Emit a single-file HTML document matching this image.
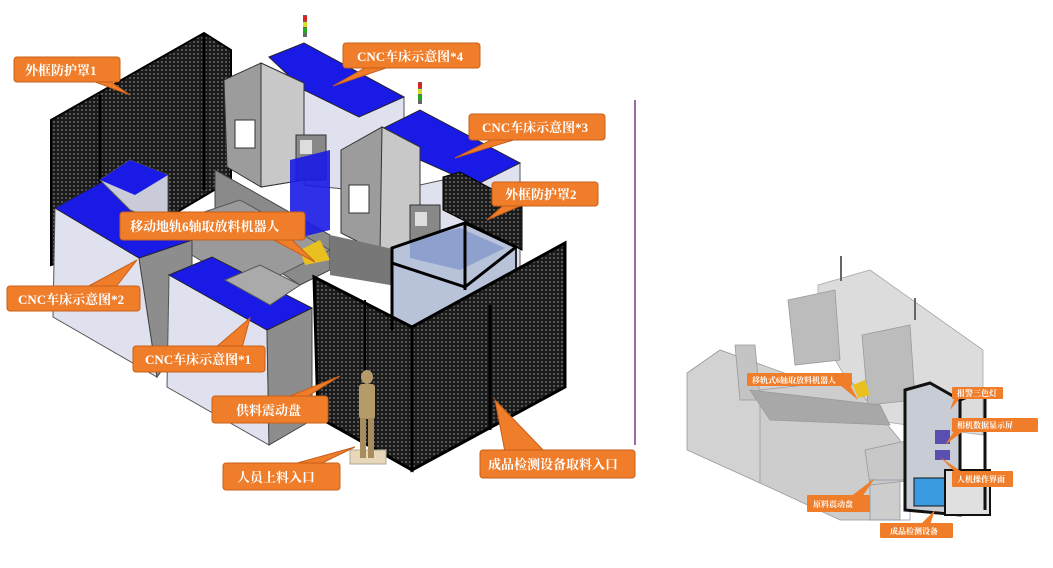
<!DOCTYPE html>
<html><head><meta charset="utf-8"><style>
html,body{margin:0;padding:0;background:#fff;width:1053px;height:568px;overflow:hidden}
svg{display:block}
text{font-family:"Liberation Serif","Noto Serif CJK SC","Noto Sans CJK SC",serif;font-weight:bold}
</style></head><body>
<svg width="1053" height="568" viewBox="0 0 1053 568" xmlns="http://www.w3.org/2000/svg">
<defs>
<pattern id="mesh" width="4" height="4" patternUnits="userSpaceOnUse">
<rect width="4" height="4" fill="#1a1a1a"/><rect x="1" y="1" width="2" height="2" fill="#555"/>
</pattern>
</defs>
<!-- ===== LEFT MAIN DIAGRAM ===== -->
<!-- fence 1 -->
<polygon points="51,120 204,33 231,50 231,180 130,240 51,265" fill="url(#mesh)" stroke="#000" stroke-width="2"/>
<line x1="100" y1="95" x2="100" y2="250" stroke="#000" stroke-width="3"/>
<line x1="204" y1="33" x2="204" y2="190" stroke="#000" stroke-width="3"/>
<!-- middle grey rail -->
<polygon points="215,170 330,235 330,270 300,285 215,230" fill="#8a8a8a" stroke="#444"/>
<polygon points="150,230 240,200 330,250 250,290" fill="#9a9a9a" stroke="#555"/>
<!-- CNC #4 -->
<polygon points="304,83 404,97 404,195 304,185" fill="#dfe2ee" stroke="#555"/>
<polygon points="269,57 304,43 404,97 359,117 304,90" fill="#1a1ae6" stroke="#223"/>
<polygon points="224,80 261,63 304,83 304,180 261,187 227,167" fill="#9c9c9c" stroke="#333"/>
<polygon points="261,63 304,83 304,180 261,187" fill="#c8c8c8" stroke="#333"/>
<rect x="235" y="120" width="20" height="28" fill="#fff" stroke="#333"/>
<rect x="296" y="135" width="30" height="45" fill="#888" stroke="#333"/>
<rect x="300" y="140" width="12" height="14" fill="#ddd"/>
<polygon points="290,160 330,150 330,230 290,240" fill="#1a1ae6" opacity="0.9"/>
<rect x="303" y="15" width="4" height="22" fill="#666"/><rect x="303" y="16" width="4" height="5" fill="#d22"/><rect x="303" y="22" width="4" height="5" fill="#dd2"/><rect x="303" y="28" width="4" height="5" fill="#2a2"/>
<!-- CNC #3 -->
<polygon points="420,185 520,163 520,290 420,310" fill="#dfe2ee" stroke="#555"/>
<polygon points="384,128 420,110 520,163 476,185 420,160" fill="#1a1ae6" stroke="#223"/>
<polygon points="341,150 382,127 420,147 420,247 380,253 341,233" fill="#9c9c9c" stroke="#333"/>
<polygon points="382,127 420,147 420,247 380,253" fill="#c8c8c8" stroke="#333"/>
<rect x="349" y="185" width="20" height="28" fill="#fff" stroke="#333"/>
<rect x="410" y="205" width="30" height="45" fill="#888" stroke="#333"/>
<rect x="415" y="212" width="12" height="14" fill="#ddd"/>
<polygon points="330,235 420,255 420,290 330,275" fill="#777"/>
<rect x="418" y="82" width="4" height="22" fill="#666"/><rect x="418" y="83" width="4" height="5" fill="#d22"/><rect x="418" y="89" width="4" height="5" fill="#dd2"/><rect x="418" y="95" width="4" height="5" fill="#2a2"/>
<!-- CNC #2 -->
<polygon points="55,208 139,258 157,377 53,317" fill="#dfe2ee" stroke="#555"/>
<polygon points="139,258 192,240 192,330 157,377" fill="#8d8d8d" stroke="#444"/>
<polygon points="55,208 102,182 192,240 139,258" fill="#1a1ae6" stroke="#223"/>
<polygon points="100,180 130,160 168,175 168,225 130,210" fill="#c9ccd8" stroke="#555"/>
<polygon points="100,180 130,160 168,175 135,195" fill="#1a1ae6"/>
<!-- CNC #1 -->
<polygon points="169,275 267,330 269,445 167,387" fill="#dfe2ee" stroke="#555"/>
<polygon points="267,330 312,308 312,420 269,445" fill="#8d8d8d" stroke="#444"/>
<polygon points="169,275 212,257 312,308 267,330" fill="#1a1ae6" stroke="#223"/>
<polygon points="225,280 260,265 300,285 270,305" fill="#aaa" stroke="#555"/>
<polygon points="300,250 320,240 330,260 305,265" fill="#e8c020"/>
<!-- cage right -->
<polygon points="392,248 465,223 516,247 516,330 392,330" fill="#b8c2d8" stroke="#222" stroke-width="2"/>
<polygon points="410,240 460,228 505,248 460,270 410,258" fill="#7288c8" opacity="0.6"/>
<polygon points="443,177 460,172 522,205 522,250 443,210" fill="url(#mesh)" stroke="#000"/>
<polygon points="314,277 412,327 412,470 318,417" fill="url(#mesh)" stroke="#000" stroke-width="3"/>
<polygon points="412,327 565,243 565,387 412,470" fill="url(#mesh)" stroke="#000" stroke-width="3"/>
<line x1="392" y1="248" x2="392" y2="330" stroke="#000" stroke-width="3"/>
<line x1="465" y1="223" x2="465" y2="290" stroke="#000" stroke-width="3"/>
<line x1="490" y1="305" x2="490" y2="430" stroke="#000" stroke-width="3"/>
<line x1="365" y1="300" x2="365" y2="445" stroke="#000" stroke-width="2"/>
<polygon points="392,248 465,223 516,247 465,287 392,263" fill="none" stroke="#000" stroke-width="3"/>
<!-- person -->
<rect x="350" y="450" width="36" height="14" fill="#e8d7b8" stroke="#aa9"/>
<ellipse cx="367" cy="377" rx="6" ry="7" fill="#b59a6a"/>
<rect x="359" y="384" width="16" height="35" rx="3" fill="#b59a6a"/>
<rect x="360" y="418" width="6" height="40" fill="#a88c5c"/><rect x="368" y="418" width="6" height="40" fill="#a88c5c"/>
<!-- purple line -->
<line x1="635" y1="100" x2="635" y2="445" stroke="#7a3a8a" stroke-width="1.5"/>
<!-- labels main -->
<g fill="#ef7d2a" stroke="#c8601a" stroke-width="1">
<polygon points="90,80 108,80 130,95"/>
<rect x="14" y="57" width="106" height="25" rx="3"/>
<polygon points="370,65 395,65 333,86"/>
<rect x="343" y="43" width="137" height="25" rx="3"/>
<polygon points="495,138 520,138 455,158"/>
<rect x="469" y="114" width="136" height="26" rx="3"/>
<polygon points="505,204 525,204 487,220"/>
<rect x="492" y="182" width="106" height="24" rx="3"/>
<polygon points="270,238 290,238 315,262"/>
<rect x="120" y="212" width="185" height="28" rx="3"/>
<polygon points="85,288 115,288 137,260"/>
<rect x="7" y="286" width="133" height="25" rx="3"/>
<polygon points="215,348 242,348 250,318"/>
<rect x="133" y="346" width="132" height="26" rx="3"/>
<polygon points="285,398 305,398 340,376"/>
<rect x="212" y="396" width="116" height="27" rx="3"/>
<polygon points="290,465 318,465 355,447"/>
<rect x="223" y="463" width="117" height="27" rx="3"/>
<polygon points="505,452 545,452 495,400"/>
<rect x="480" y="450" width="155" height="28" rx="3"/>
</g>
<g fill="#fff" font-size="13">
<text x="25" y="75">外框防护罩1</text>
<text x="357" y="61">CNC车床示意图*4</text>
<text x="482" y="132">CNC车床示意图*3</text>
<text x="505" y="199">外框防护罩2</text>
<text x="130" y="231">移动地轨6轴取放料机器人</text>
<text x="18" y="304">CNC车床示意图*2</text>
<text x="145" y="364">CNC车床示意图*1</text>
<text x="236" y="415">供料震动盘</text>
<text x="237" y="482">人员上料入口</text>
<text x="488" y="469">成品检测设备取料入口</text>
</g>
<!-- ===== RIGHT SMALL DIAGRAM ===== -->
<g stroke="#999" stroke-width="0.8">
<polygon points="818,285 870,270 983,350 983,435 870,420 818,330" fill="#d6d6d6" opacity="0.85"/>
<polygon points="687,373 720,350 790,375 790,460 760,483 687,450" fill="#d2d2d2"/>
<polygon points="760,390 850,380 900,440 900,520 840,520 760,483" fill="#cdcdcd"/>
<polygon points="788,300 835,290 840,360 795,365" fill="#bcbcbc"/>
<polygon points="862,335 910,325 915,400 868,405" fill="#bcbcbc"/>
<polygon points="735,345 755,345 760,400 740,400" fill="#c4c4c4"/>
<polygon points="750,390 880,405 890,425 770,420" fill="#a8a8a8"/>
<polygon points="865,450 910,440 915,480 870,485" fill="#c8c8c8"/>
<rect x="870" y="480" width="40" height="40" fill="none" stroke="#8899aa"/>
</g>
<polygon points="853,385 865,380 870,395 858,398" fill="#e8c020"/>
<rect x="840" y="256" width="2" height="25" fill="#666"/>
<rect x="914" y="298" width="2" height="22" fill="#666"/>
<!-- black cabinet -->
<polygon points="905,390 930,383 960,400 960,515 905,510" fill="#c8ccd4" stroke="#111" stroke-width="3"/>
<rect x="935" y="430" width="15" height="14" fill="#5a4fb0"/>
<rect x="935" y="450" width="15" height="10" fill="#5a4fb0"/>
<rect x="914" y="478" width="40" height="28" fill="#3a9ae0" stroke="#111"/>
<rect x="945" y="470" width="45" height="45" fill="#e0e0e0" stroke="#111" stroke-width="2"/>
<line x1="960" y1="400" x2="985" y2="390" stroke="#111" stroke-width="3"/>
<line x1="985" y1="390" x2="985" y2="510" stroke="#111" stroke-width="3"/>
<g fill="#ef7d2a">
<polygon points="840,385 850,385 858,400"/>
<rect x="747" y="373" width="105" height="13" rx="1"/>
<polygon points="955,396 962,396 950,410"/>
<rect x="952" y="387" width="51" height="12" rx="1"/>
<polygon points="955,430 965,430 945,445"/>
<rect x="952" y="418" width="86" height="14" rx="1"/>
<polygon points="955,472 962,472 940,457"/>
<rect x="952" y="471" width="61" height="16" rx="1"/>
<polygon points="850,497 862,497 875,478"/>
<rect x="807" y="495" width="63" height="17" rx="1"/>
<polygon points="920,525 930,525 935,510"/>
<rect x="880" y="523" width="73" height="15" rx="1"/>
</g>
<g fill="#fff" font-size="8">
<text x="752" y="383">移轨式6轴取放料机器人</text>
<text x="957" y="396">报警三色灯</text>
<text x="957" y="428">相机数据显示屏</text>
<text x="957" y="482">人机操作界面</text>
<text x="813" y="507">原料震动盘</text>
<text x="890" y="534">成品检测设备</text>
</g>
</svg>
</body></html>
